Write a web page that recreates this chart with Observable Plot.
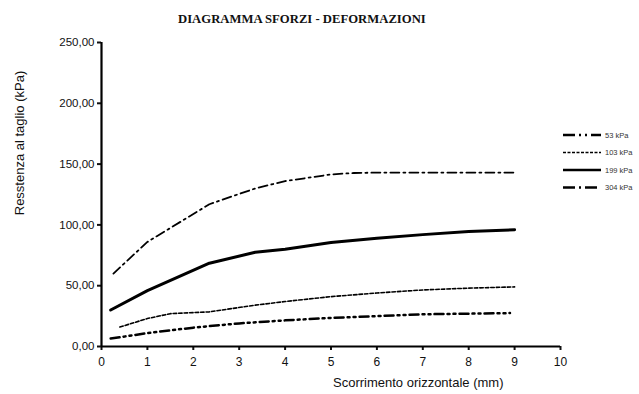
<!DOCTYPE html>
<html><head><meta charset="utf-8">
<script src="https://cdn.jsdelivr.net/npm/d3@7"></script>
<script src="https://cdn.jsdelivr.net/npm/@observablehq/plot@0.6"></script>
<style>
body{margin:0;background:#fff;}
#wrap{position:relative;width:639px;height:394px;overflow:hidden;}
#wrap svg.plot{position:absolute;left:0;top:0;}
#title{position:absolute;left:178px;top:12px;font:bold 12.7px "Liberation Serif","Times New Roman",serif;color:#111;white-space:nowrap;}
#xlab{position:absolute;left:333px;top:375px;font:13px "Liberation Sans",Arial,sans-serif;color:#111;white-space:nowrap;}
#ylab{position:absolute;left:12px;top:143px;font:13px "Liberation Sans",Arial,sans-serif;color:#111;white-space:nowrap;transform-origin:0 0;transform:rotate(-90deg) translate(-50%,0);}
#legend{position:absolute;left:555px;top:124px;}
</style></head><body><div id="wrap"><div id="title"></div><div id="xlab"></div><div id="ylab"></div></div>
<script>
const title = "DIAGRAMMA SFORZI - DEFORMAZIONI";
const xLabel = "Scorrimento orizzontale (mm)";
const yLabel = "Resstenza al taglio (kPa)";
const seriesNames = ["53 kPa", "103 kPa", "199 kPa", "304 kPa"];

const x53 = [0.2, 1.0, 2.0, 3.0, 4.0, 5.0, 6.0, 7.0, 8.0, 8.9];
const y53 = [6.5, 11.0, 15.5, 19.0, 21.5, 23.5, 25.0, 26.5, 27.0, 27.5];
const x103 = [0.4, 1.0, 1.5, 2.35, 3.35, 4.0, 5.0, 6.0, 7.0, 8.0, 9.0];
const y103 = [16.0, 23.0, 27.0, 28.5, 34.0, 37.0, 41.0, 44.0, 46.5, 48.0, 49.0];
const x199 = [0.2, 1.0, 2.35, 3.35, 4.0, 5.0, 6.0, 7.0, 8.0, 9.0];
const y199 = [30.0, 46.0, 68.5, 77.5, 80.0, 85.5, 89.0, 92.0, 94.5, 96.0];
const x304 = [0.26, 1.0, 2.35, 3.35, 4.0, 5.0, 5.5, 6.0, 7.0, 8.0, 9.0];
const y304 = [60.0, 86.0, 117.0, 130.0, 136.0, 141.5, 142.7, 143.0, 143.0, 143.0, 143.0];

const xTicks = [0, 1, 2, 3, 4, 5, 6, 7, 8, 9, 10];
const yTicks = [0, 50, 100, 150, 200, 250];

const seriesX = [x53, x103, x199, x304];
const seriesY = [y53, y103, y199, y304];
const styles = {
  "53 kPa":  {dash: "9,4,2,4,2,4", width: 2.5, legendDash: "12,4,2,4,2,4"},
  "103 kPa": {dash: "3.5,2", width: 1.6, legendDash: "3,1.5"},
  "199 kPa": {dash: null, width: 3, legendDash: null},
  "304 kPa": {dash: "9,4,2,4", width: 1.8, legendDash: "12,4,2,4"}
};

const data = seriesNames.flatMap((name, i) =>
  seriesX[i].map((x, j) => ({series: name, x, y: seriesY[i][j]})));

const fmt = d => d.toFixed(2).replace(".", ",");

const plot = Plot.plot({
  width: 639,
  height: 394,
  marginLeft: 101,
  marginRight: 79,
  marginTop: 42,
  marginBottom: 48,
  style: {fontFamily: "'Liberation Sans', Arial, sans-serif", fontSize: "12px", color: "#111", background: "transparent"},
  x: {domain: [0, 10]},
  y: {domain: [0, 250]},
  marks: [
    Plot.axisX({ticks: xTicks, tickSize: 4, tickPadding: 7, label: null, strokeWidth: 2, tickFormat: d => String(d)}),
    Plot.axisY({ticks: yTicks, tickSize: 4, tickPadding: 3, label: null, strokeWidth: 2, tickFormat: fmt, fontSize: 11.5}),
    Plot.ruleX([0], {stroke: "black", strokeWidth: 2.2}),
    Plot.ruleY([0], {stroke: "black", strokeWidth: 2.2}),
    ...seriesNames.map(name => Plot.line(data.filter(d => d.series === name), {
      x: "x", y: "y", stroke: "black",
      strokeWidth: styles[name].width,
      strokeDasharray: styles[name].dash || undefined,
      strokeLinejoin: "round"
    }))
  ]
});
plot.classList.add("plot");
document.getElementById("wrap").prepend(plot);
document.getElementById("title").textContent = title;
document.getElementById("xlab").textContent = xLabel;
document.getElementById("ylab").textContent = yLabel;

// legend
const lg = d3.select("#wrap").append("svg").attr("id", "legend").attr("width", 84).attr("height", 80);
seriesNames.forEach((name, i) => {
  const yy = 11 + i * 17.5;
  lg.append("line").attr("x1", 8).attr("x2", 46).attr("y1", yy).attr("y2", yy)
    .attr("stroke", "black").attr("stroke-width", name === "103 kPa" ? 1.6 : 2.4)
    .attr("stroke-dasharray", styles[name].legendDash);
  lg.append("text").attr("x", 50).attr("y", yy + 2.5).text(name)
    .attr("font-family", "'Liberation Sans', Arial, sans-serif").attr("font-size", 7.5).attr("fill", "#333");
});
</script></body></html>
